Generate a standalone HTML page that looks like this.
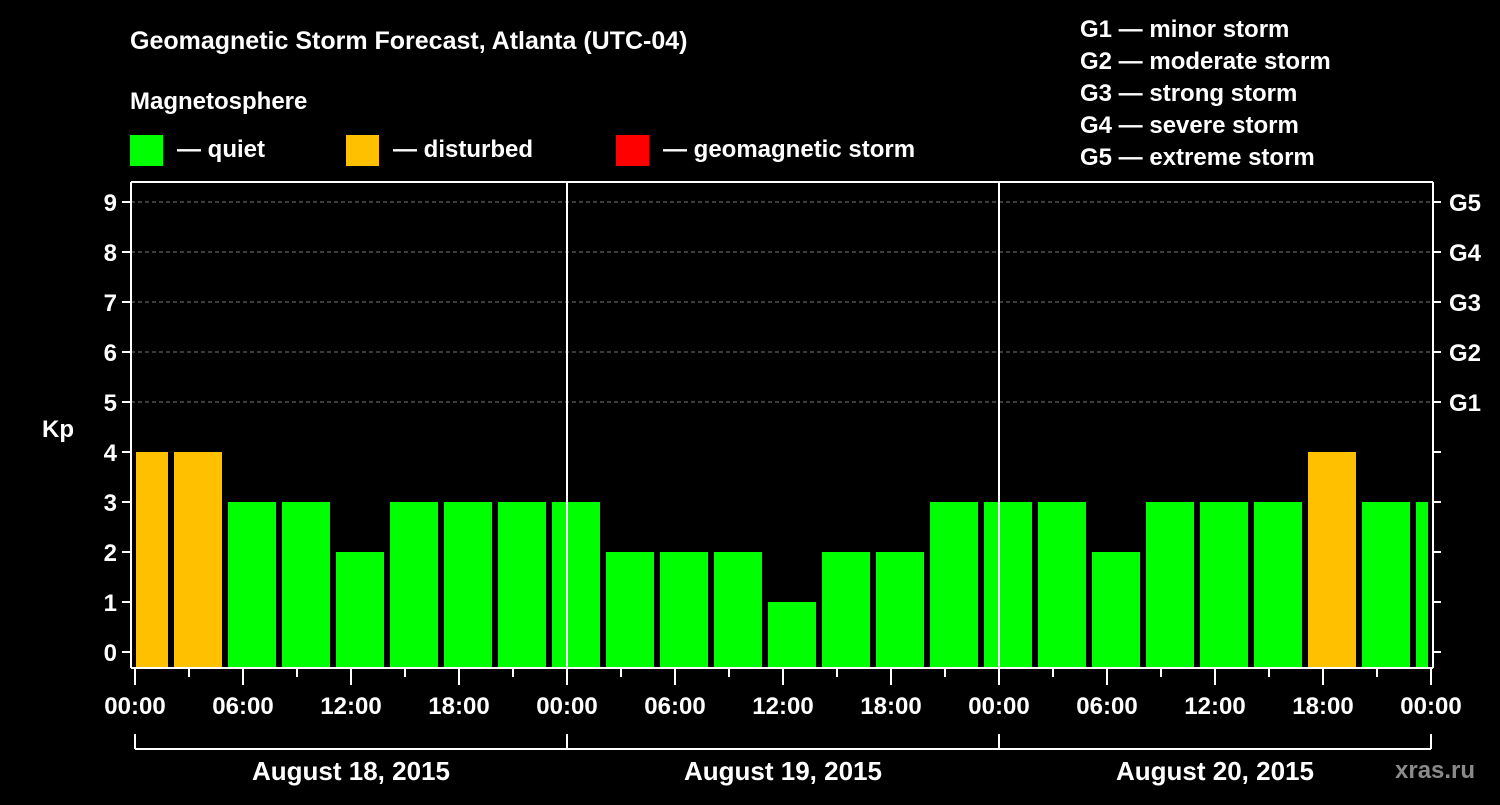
<!DOCTYPE html>
<html><head><meta charset="utf-8"><style>
body{margin:0;background:#000;width:1500px;height:800px;overflow:hidden}
svg text{font-family:"Liberation Sans",sans-serif;font-weight:bold;fill:#fff}
</style></head><body>
<svg id="c" width="1500" height="800" xmlns="http://www.w3.org/2000/svg">
<text x="130" y="49" font-size="25">Geomagnetic Storm Forecast, Atlanta (UTC-04)</text>
<text x="130" y="109" font-size="24">Magnetosphere</text>
<g><rect x="130" y="135" width="33" height="31" fill="#00ff00"/><text x="177" y="157" font-size="24">— quiet</text></g>
<g><rect x="346" y="135" width="33" height="31" fill="#ffc000"/><text x="393" y="157" font-size="24">— disturbed</text></g>
<g><rect x="616" y="135" width="33" height="31" fill="#ff0000"/><text x="663" y="157" font-size="24">— geomagnetic storm</text></g>
<g font-size="24">
<text x="1080" y="37">G1 — minor storm</text><text x="1080" y="69">G2 — moderate storm</text><text x="1080" y="101">G3 — strong storm</text><text x="1080" y="133">G4 — severe storm</text><text x="1080" y="165">G5 — extreme storm</text>
</g>
<text x="42" y="437" font-size="24">Kp</text>
<text x="1395" y="778" font-size="24" fill="#888" style="fill:#8a8a8a">xras.ru</text>
<g id="grid"></g><g id="bars"></g><g id="axes"></g>
</svg>
<script>
const kpValues=[4,4,3,3,2,3,3,3,3,2,2,2,1,2,2,3,3,3,2,3,3,3,4,3,3];
const yTicks=[0,1,2,3,4,5,6,7,8,9];
const gLabels=["G1","G2","G3","G4","G5"];
const xTickLabels=["00:00","06:00","12:00","18:00","00:00","06:00","12:00","18:00","00:00","06:00","12:00","18:00","00:00"];
const dayLabels=["August 18, 2015","August 19, 2015","August 20, 2015"];
const firstBarHour=-1;
const NS="http://www.w3.org/2000/svg";
const X0=135,PX_H=18,Y0=652,PX_K=50,L=131,R=1433,T=182,B=668;
const xs=h=>X0+h*PX_H, ys=v=>Y0-v*PX_K;
function el(tag,attrs,parent,txt){const e=document.createElementNS(NS,tag);for(const k in attrs)e.setAttribute(k,attrs[k]);if(txt!==undefined)e.textContent=txt;document.getElementById(parent).appendChild(e);return e;}
yTicks.forEach(v=>{
 if(v>=5){const g=el('line',{x1:L,x2:R,y1:ys(v),y2:ys(v),stroke:'#777','stroke-dasharray':'4,3'},'grid');
 
 }
 const t=el('line',{x1:L-9,x2:L,y1:ys(v),y2:ys(v),stroke:'#fff','stroke-width':2},'axes');
 
 
 const lb=el('text',{x:L-14,y:ys(v)+9,'font-size':24,'text-anchor':'end'},'axes',String(v));
 
 
 const rt=el('line',{x1:R,x2:R+8,y1:ys(v),y2:ys(v),stroke:'#fff','stroke-width':2},'axes');
 
 
 if(v>=5){const gl=el('text',{x:R+16,y:ys(v)+9,'font-size':24},'axes',gLabels[v-5]);
 
 }
});
const hMax=(xTickLabels.length-1)*6;
kpValues.forEach((v,i)=>{
 const h0=firstBarHour+i*3;
 let x1=Math.max(xs(h0)+3,X0+1), x2=Math.min(xs(h0+3)-3,xs(hMax)-3);
 const c=v>=5?'#ff0000':(v>=4?'#ffc000':'#00ff00');
 const r=el('rect',{x:x1,y:ys(v),width:x2-x1,height:B-ys(v),fill:c},'bars');
 
 
});
function line(x1,y1,x2,y2,name){const l=el('line',{x1,y1,x2,y2,stroke:'#fff','stroke-width':2},'axes');
 
 }
line(L,T,R,T,'plot-top');line(L,B,R,B,'x-axis');line(L,T,L,B,'y-axis');line(R,T,R,B,'right-axis');
for(let d=1;d<dayLabels.length;d++)line(xs(d*24),T,xs(d*24),B,'day-separator');
for(let h=0;h<=hMax;h+=3)line(xs(h),B,xs(h),B+(h%6==0?17:9),'x-tick');
xTickLabels.forEach((s,i)=>{const t=el('text',{x:xs(i*6),y:714,'font-size':24,'text-anchor':'middle'},'axes',s);
 
 });
line(xs(0),749,xs(hMax),749,'date-bracket');
for(let d=0;d<=dayLabels.length;d++)line(xs(d*24),734,xs(d*24),749,'date-bracket-tick');
dayLabels.forEach((s,i)=>{const t=el('text',{x:xs(i*24+12),y:780,'font-size':26,'text-anchor':'middle'},'axes',s);
 
 });
</script>
</body></html>
